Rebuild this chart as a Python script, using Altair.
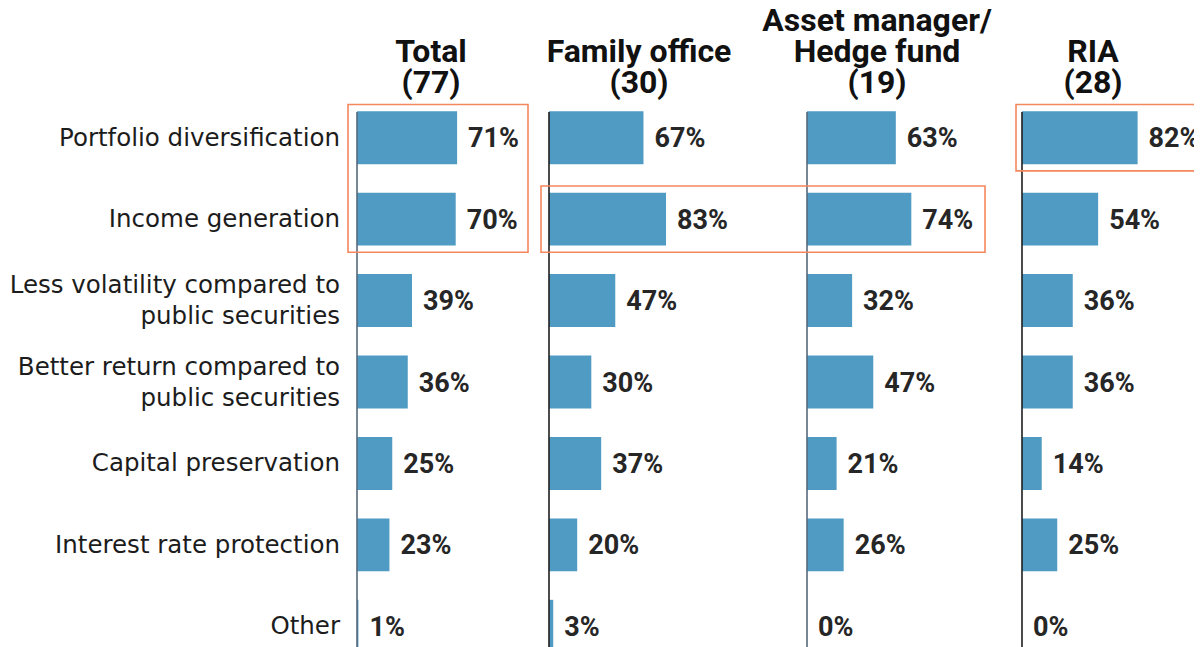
import altair as alt
import pandas as pd

# ---------------- data ----------------
CATEGORIES = [
    "Portfolio diversification",
    "Income generation",
    "Less volatility compared to\npublic securities",
    "Better return compared to\npublic securities",
    "Capital preservation",
    "Interest rate protection",
    "Other",
]
GROUPS = ["Total", "Family office", "Asset manager/\nHedge fund", "RIA"]
COUNTS = [77, 30, 19, 28]
TOTAL = [71, 70, 39, 36, 25, 23, 1]
FAMILY_OFFICE = [67, 83, 47, 30, 37, 20, 3]
ASSET_MANAGER = [63, 74, 32, 47, 21, 26, 0]
RIA = [82, 54, 36, 36, 14, 25, 0]
SERIES = [TOTAL, FAMILY_OFFICE, ASSET_MANAGER, RIA]

# highlighted cells: (first row, last row)
HIGHLIGHT_ROWS = [(0, 1), (1, 1), (0, 0)]

# ---------------- layout / style ----------------
FONT = "Roboto"
LABEL_FONT = "DejaVu Sans"
BAR = "#4f9bc3"
ORANGE = "#f5875c"
PX_PER_PCT = 1.41
W, H = 837, 570
STEP = H / len(CATEGORIES)
PANEL_LEFT_PX = [0, 192, 450, 665]
TITLE_CENTER_PX = [74, 90, 70, 71]
RULE_COLORS = ["#56697b", "#1f1f1f", "#56697b", "#1f1f1f"]
BOX_X_PX = [(-9, 171), (184, 628), (659, 900)]
BAR_HALF = 0.325
BOX_HALF = 0.407
LABEL_LH = 31
TITLE_LH = 31
TITLE_BASE = -4

off = [p / PX_PER_PCT for p in PANEL_LEFT_PX]

rows = []
for g, (name, vals) in enumerate(zip(GROUPS, SERIES)):
    for i, (cat, v) in enumerate(zip(CATEGORIES, vals)):
        rows.append({"group": name, "category": cat, "idx": i, "value": v,
                     "x0": off[g], "x1": off[g] + v, "label": f"{v}%"})
df = pd.DataFrame(rows)

cat_lines = []
for i, cat in enumerate(CATEGORIES):
    parts = cat.split("\n")
    n = len(parts)
    for k, p in enumerate(parts):
        cat_lines.append({"text": p, "ly": i + (k - (n - 1) / 2) * LABEL_LH / STEP})
cat_df = pd.DataFrame(cat_lines)

panels = pd.DataFrame({"group": GROUPS, "off": off, "rc": RULE_COLORS})

title_lines = []
for g, (name, c) in enumerate(zip(GROUPS, COUNTS)):
    parts = name.split("\n") + [f"({c})"]
    n = len(parts)
    for k, p in enumerate(parts):
        title_lines.append({"text": p,
                            "tx": off[g] + TITLE_CENTER_PX[g] / PX_PER_PCT,
                            "ty": TITLE_BASE - (n - 1 - k) * TITLE_LH})
title_df = pd.DataFrame(title_lines)

boxes = pd.DataFrame({
    "bx0": [a / PX_PER_PCT for a, b in BOX_X_PX],
    "bx1": [b / PX_PER_PCT for a, b in BOX_X_PX],
    "by0": [r0 - BOX_HALF for r0, r1 in HIGHLIGHT_ROWS],
    "by1": [r1 + BOX_HALF for r0, r1 in HIGHLIGHT_ROWS],
})

xs = alt.Scale(domain=[0, W / PX_PER_PCT], nice=False, zero=False)
ys = alt.Scale(domain=[-0.5, len(CATEGORIES) - 0.5], reverse=True, nice=False, zero=False)

bars = alt.Chart(df).transform_calculate(
    y0=f"datum.idx - {BAR_HALF}", y1=f"datum.idx + {BAR_HALF}"
).mark_rect(color=BAR).encode(
    x=alt.X("x0:Q", scale=xs, axis=None),
    x2="x1:Q",
    y=alt.Y("y0:Q", scale=ys, axis=None),
    y2="y1:Q",
)

cat_labels = alt.Chart(cat_df).mark_text(
    align="right", baseline="middle", dy=1, font=LABEL_FONT, fontSize=24.5,
    color="#1c1c1c",
).encode(
    x=alt.value(-17),
    y=alt.Y("ly:Q", scale=ys, axis=None),
    text="text:N",
)

rules = alt.Chart(panels).mark_rule(strokeWidth=1.6).encode(
    x=alt.X("off:Q", scale=xs, axis=None),
    y=alt.value(15),
    y2=alt.value(H + 30),
    color=alt.Color("rc:N", scale=None),
)

values = alt.Chart(df).mark_text(
    align="left", baseline="middle", dx=11, dy=1.5, font=FONT, fontSize=27,
    fontWeight="bold", color="#262626",
).encode(
    x=alt.X("x1:Q", scale=xs, axis=None),
    y=alt.Y("idx:Q", scale=ys, axis=None),
    text="label:N",
)

titles = alt.Chart(title_df).mark_text(
    align="center", baseline="alphabetic", font=FONT, fontSize=32,
    fontWeight="bold", color="#111111",
).encode(
    x=alt.X("tx:Q", scale=xs, axis=None),
    y=alt.Y("ty:Q", scale=None, axis=None),
    text="text:N",
)

highlight = alt.Chart(boxes).mark_rect(
    fillOpacity=0, stroke=ORANGE, strokeWidth=1.6,
).encode(
    x=alt.X("bx0:Q", scale=xs, axis=None),
    x2="bx1:Q",
    y=alt.Y("by0:Q", scale=ys, axis=None),
    y2="by1:Q",
)

chart = alt.layer(bars, rules, cat_labels, values, titles, highlight).properties(
    width=W, height=H,
    autosize=alt.AutoSizeParams(type="none"),
    padding={"left": 349, "top": 89, "right": 0, "bottom": 0},
    background="white",
).configure_view(stroke=None)

chart.save("out.html", embed_options={"renderer": "svg", "actions": False})
